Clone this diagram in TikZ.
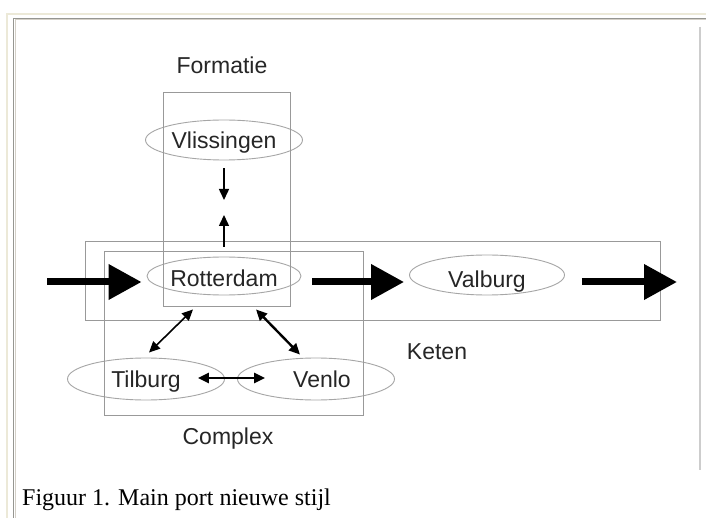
\documentclass[tikz,border=0pt]{standalone}
\usepackage{fontspec}
\setmainfont{Liberation Serif}
\newfontfamily\labfont{Liberation Sans}
\usetikzlibrary{arrows.meta,calc,shapes.geometric}
\definecolor{beige}{RGB}{236,233,216}
\definecolor{framegray}{RGB}{150,150,145}
\definecolor{framelight}{RGB}{212,208,200}
\definecolor{rightline}{RGB}{205,205,205}
\begin{document}
\begin{tikzpicture}[x=1pt,y=-1pt,
  lab/.style={font=\labfont\fontsize{23}{27}\selectfont, text=black!85, inner sep=0pt, text height=16.5pt, text depth=4.5pt},
  city/.style={lab, ellipse, draw=black!35, line width=0.9pt, minimum width=155pt, minimum height=40pt, text height=19pt, text depth=2.5pt},
  grpbox/.style={draw=black!40, line width=1pt},
  bigarrow/.style={line width=7pt, -{Triangle[length=33pt,width=34pt]}},
  smallarrow/.style={line width=1.5pt, -{Triangle[length=11pt,width=10pt]}},
  dblarrow/.style={line width=1.6pt, {Triangle[length=11pt,width=10pt]}-{Triangle[length=11pt,width=10pt]}},
]
\useasboundingbox (0,0) rectangle (706,518);
\fill[white] (0,0) rectangle (706,518);
% page frame
\draw[beige, line width=2.5pt] (7,518) -- (7,14) -- (706,14);
\draw[framegray, line width=1.5pt] (13.5,518) -- (13.5,18.5) -- (706,18.5);
\draw[framelight, line width=1pt] (15,518) -- (15,20) -- (706,20);
\draw[rightline, line width=1.5pt] (700,27) -- (700,470);

% cities
\node[city, minimum width=157pt] (vlis) at (224,140) {Vlissingen};
\node[city, minimum width=154pt, minimum height=38pt, text height=22pt, text depth=1.5pt] (rot) at (224,276) {Rotterdam};
\node[city, text height=26pt, text depth=1.5pt] (val) at (487,275) {Valburg};
\node[city, minimum width=157pt, minimum height=42pt] (til) at (146,379) {Tilburg\hspace{16pt}};
\node[city, minimum width=157pt, minimum height=42pt] (ven) at (316,379) {\hspace{12pt}Venlo};

% group labels
\node[lab] (formatie) at (222,68) {Formatie};
\node[lab] (keten) at (437,353) {Keten};
\node[lab] (complex) at (228,438) {Complex};
\node[font=\fontsize{24}{28}\selectfont, anchor=base west, inner sep=0pt] (caption) at (22,505) {Figuur 1. Main port nieuwe stijl};

% group boxes
\draw[grpbox] (163,93) rectangle (290,307);
\draw[grpbox] (85,242) rectangle (660,320);
\draw[grpbox] (104,252) rectangle (363,415);

% big chain arrows
\coordinate (inL) at (47,282);
\coordinate (outR) at (677,282);
\draw[bigarrow, shorten >=5pt] (inL) -- (inL -| rot.west);
\draw[bigarrow, shorten <=11pt, shorten >=5pt] (inL -| rot.east) -- (inL -| val.west);
\draw[bigarrow, shorten <=17pt] (inL -| val.east) -- (outR);

% formation arrows
\coordinate (mid) at (224,208);
\draw[smallarrow, shorten <=8pt, shorten >=8pt] (vlis.south) -- (mid);
\draw[smallarrow, shorten <=10pt, shorten >=7pt] (rot.north) -- (mid);

% complex arrows
\draw[dblarrow] ($(rot.south)+(-31,14)$) -- ($(til.north)+(3,-5)$);
\draw[dblarrow, line width=2.4pt] ($(rot.south)+(32,14)$) -- ($(ven.north)+(-16,-3)$);
\draw[dblarrow, line width=2.4pt] ($(til.east)+(-27,-1)$) -- ($(ven.west)+(28,-1)$);
\end{tikzpicture}
\end{document}
